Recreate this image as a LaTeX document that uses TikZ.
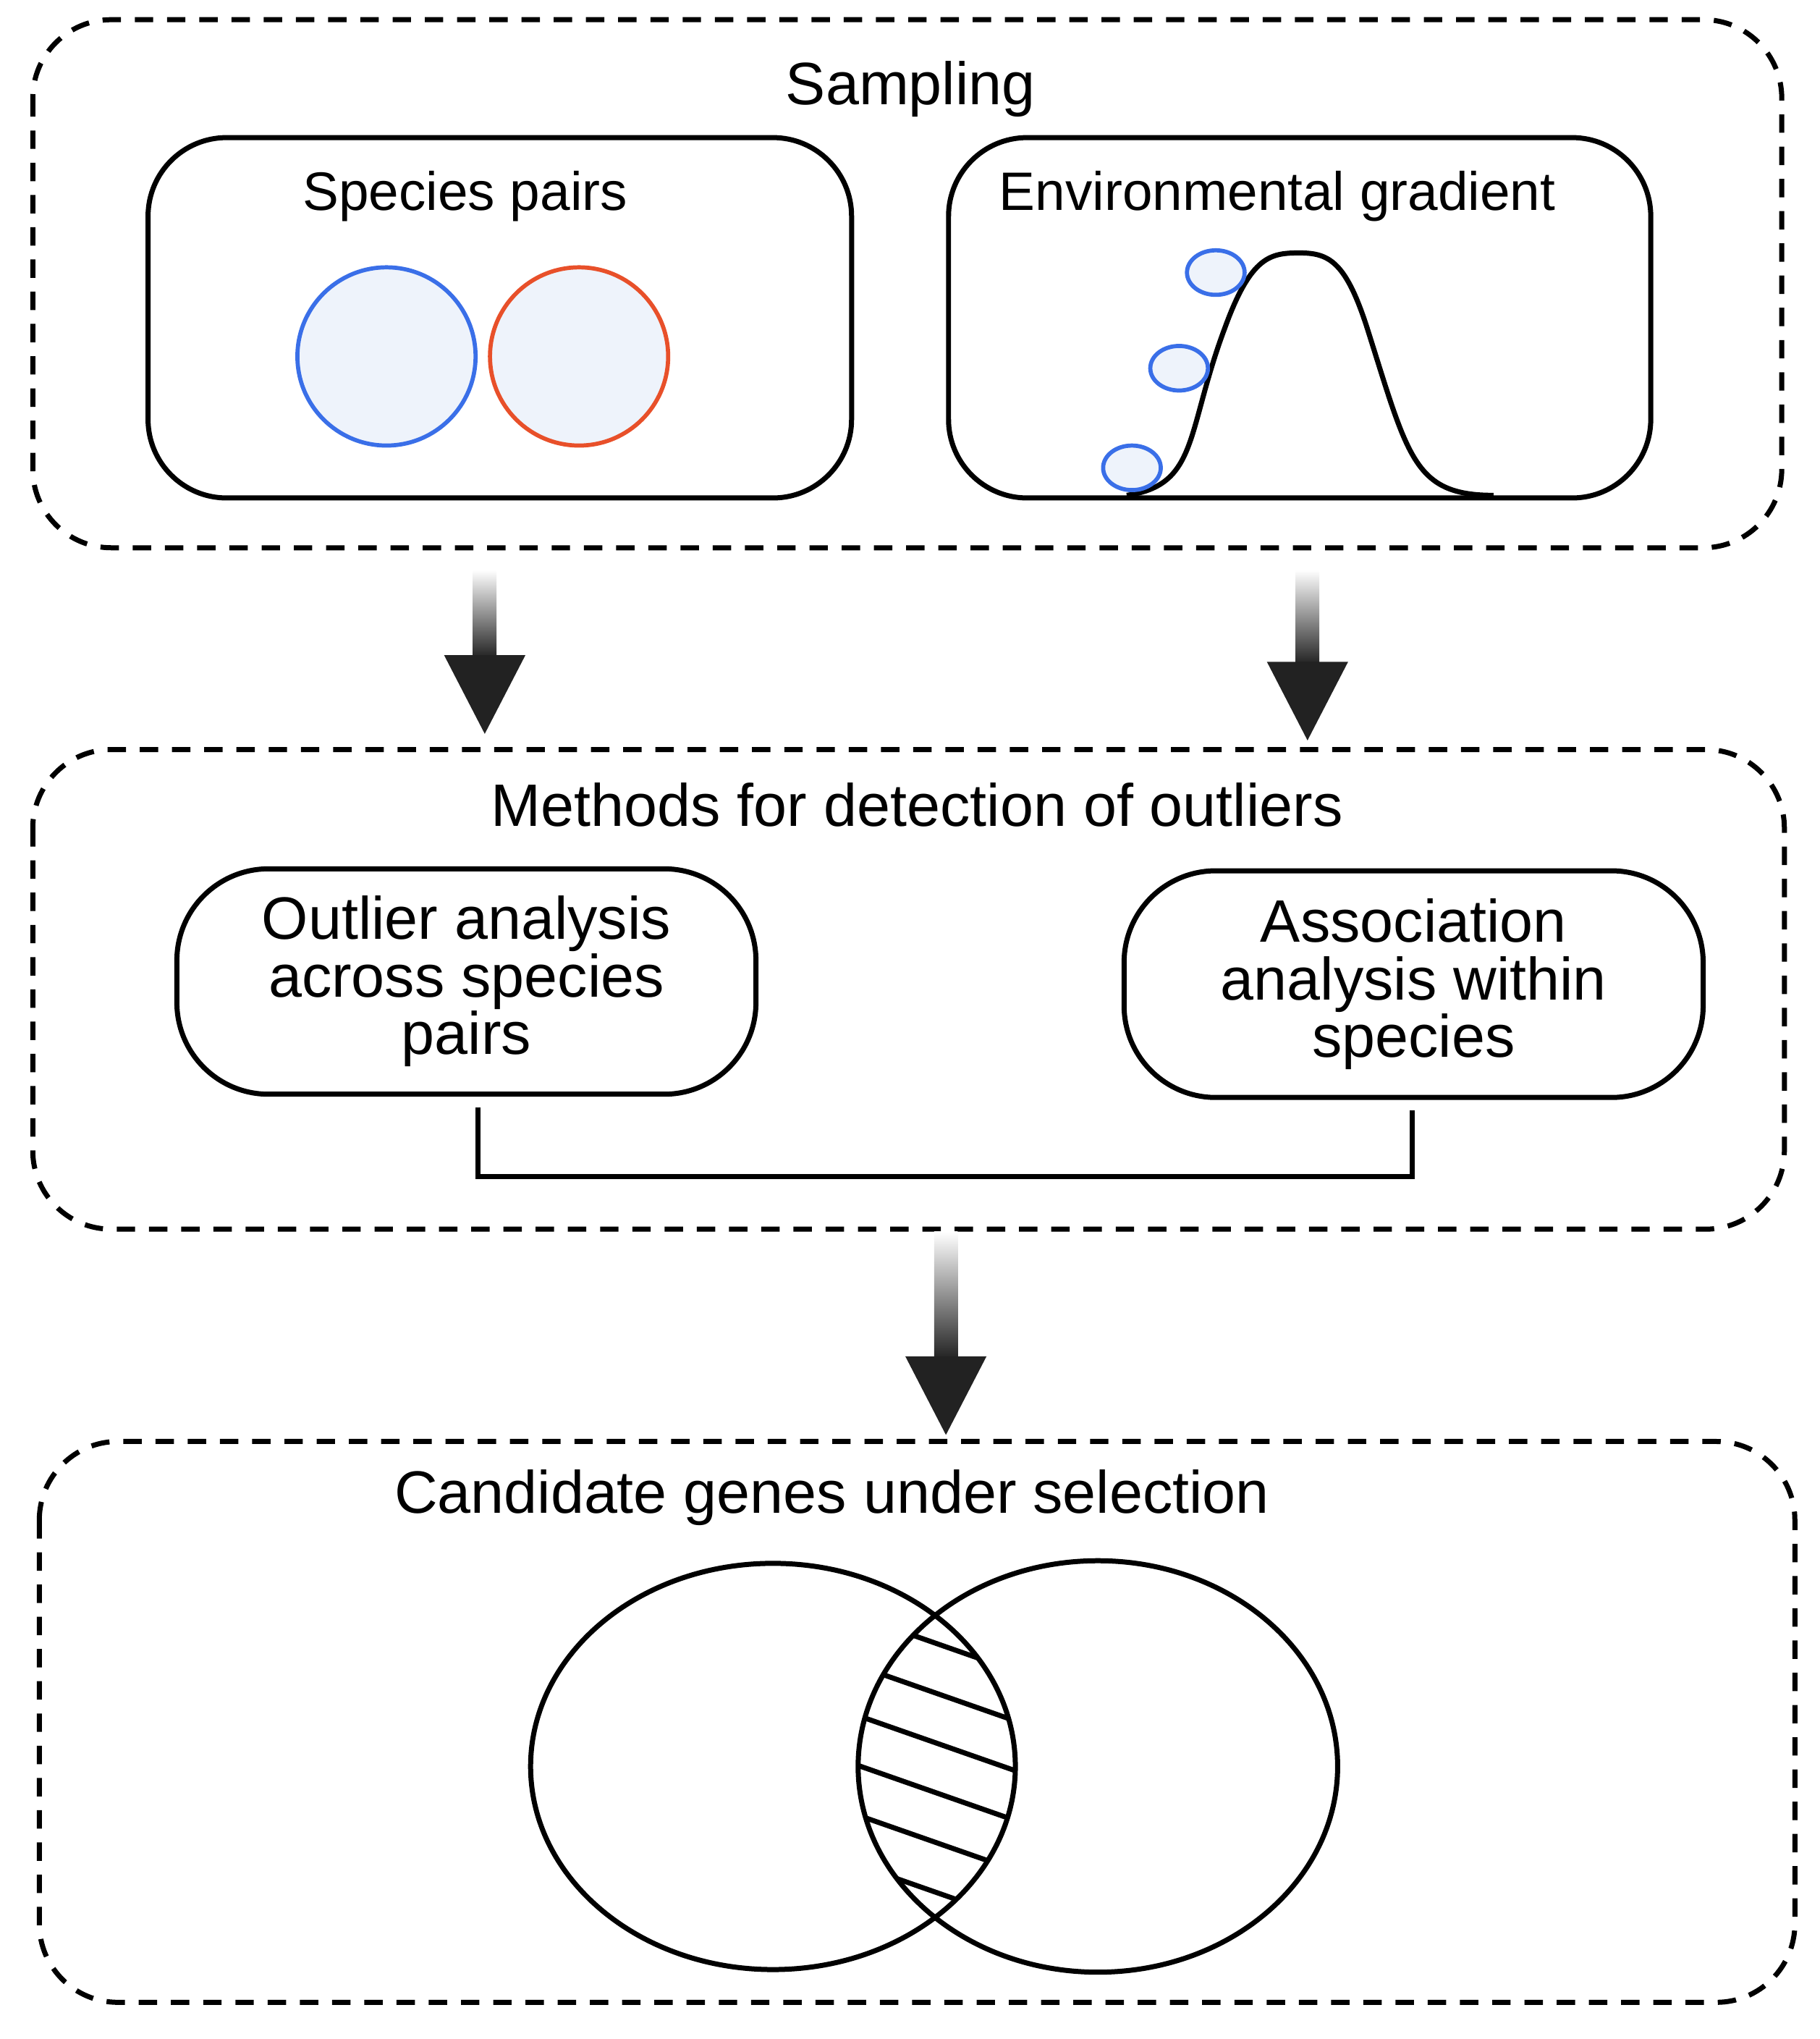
\documentclass[tikz,border=0pt]{standalone}
\usepackage{fontspec}
\setmainfont{Liberation Sans}
\begin{document}
\begin{tikzpicture}[x=0.02cm,y=-0.02cm,
  grp/.style={draw,dashed,line width=2.2pt,rounded corners=1.2cm,dash pattern=on 8pt off 6pt},
  box/.style={draw,line width=2.2pt,rounded corners=1.2cm},
  ttl/.style={font=\fontsize{26}{30}\selectfont},
  sub/.style={font=\fontsize{23.5}{28}\selectfont},
  meth/.style={draw,line width=2.2pt,rounded corners=1.4cm,align=center,font=\fontsize{26}{25}\selectfont,inner sep=0pt},
  pop/.style={line width=1.8pt,fill=pfill}]
\useasboundingbox (0,0) rectangle (1389,1556);
\definecolor{bl}{HTML}{3A6FE8}\definecolor{rd}{HTML}{E8502A}\definecolor{ar}{HTML}{222222}\definecolor{pfill}{HTML}{EEF3FB}
\newcommand{\bigarrow}[3]{%
  \shade[top color=white,bottom color=ar] (#1-9,#2) rectangle (#1+9,#3-58);
  \fill[ar] (#1-31,#3-60) -- (#1+31,#3-60) -- (#1,#3) -- cycle;}
% group 1
\draw[grp] (25,15) rectangle (1360,418);
\node[ttl] (t1) at (695,68) {Sampling};
\draw[box] (113,105) rectangle (650,380);
\node[sub] (sp) at (355,150) {Species pairs};
\draw[pop,draw=bl] (295,272) circle (68);
\draw[pop,draw=rd] (442,272) circle (68);
\draw[box] (724,105) rectangle (1260,380);
\node[sub] (eg) at (975,150) {Environmental gradient};
\draw[line width=2.2pt] (860,378) .. controls (915,370) and (905,330) .. (935,250)
  .. controls (955,195) and (970,193) .. (992,193)
  .. controls (1015,193) and (1028,200) .. (1045,255)
  .. controls (1075,350) and (1080,378) .. (1140,378);
\draw[pop,draw=bl] (928,208) ellipse (22 and 17);
\draw[pop,draw=bl] (900,281) ellipse (22 and 17);
\draw[pop,draw=bl] (864,357) ellipse (22 and 17);
\bigarrow{370}{435}{560}
\bigarrow{998}{435}{565}
% group 2
\draw[grp] (25,572) rectangle (1362,938);
\node[ttl] (t2) at (700,614) {Methods for detection of outliers};
\node[meth,minimum width=442*0.02cm,minimum height=172*0.02cm] (m1) at (356,749) {Outlier analysis\\across species\\pairs};
\node[meth,minimum width=442*0.02cm,minimum height=173*0.02cm] (m2) at (1079,751) {Association\\analysis within\\species};
\coordinate (c1) at (365,898); \coordinate (c2) at (1078,898);
\draw[line width=2.2pt] ([yshift=-0.16cm]m1.south -| c1) -- (c1) -- (c2) -- ([yshift=-0.16cm]m2.south -| c2);
\bigarrow{722}{940}{1095}
% group 3
\draw[grp] (30,1100) rectangle (1370,1528);
\node[ttl] (t3) at (635,1143) {Candidate genes under selection};
\begin{scope}
  \clip (590,1348) ellipse (185 and 155);
  \clip (838,1348) ellipse (183 and 157);
  \foreach \k in {-3,...,4} \draw[line width=2.2pt] (600,1290+38*\k) -- (800,1360+38*\k);
\end{scope}
\draw[line width=2.2pt] (590,1348) ellipse (185 and 155);
\draw[line width=2.2pt] (838,1348) ellipse (183 and 157);
\end{tikzpicture}
\end{document}
